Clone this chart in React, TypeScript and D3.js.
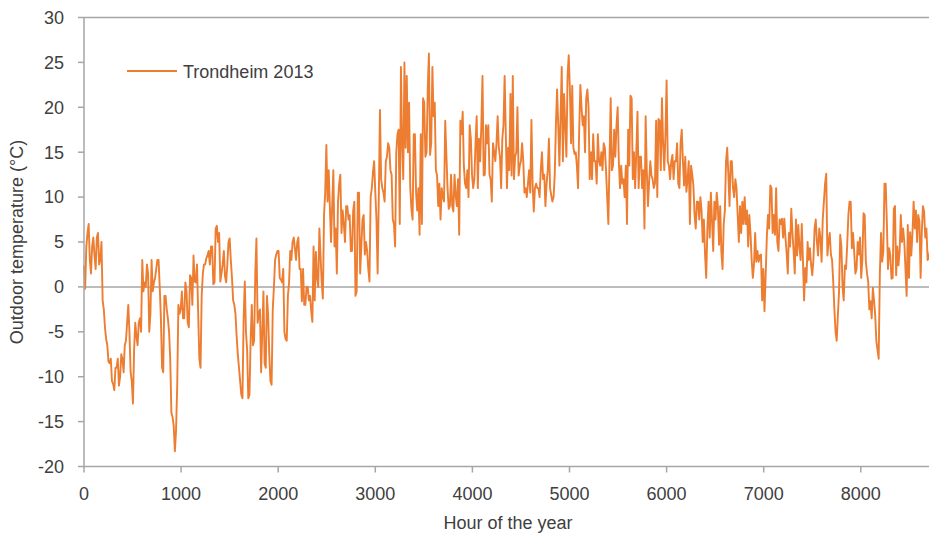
import React from 'react';
import { scaleLinear, line } from 'd3';

const STEP_HOURS = 24;
const HALF_DAY = 12;

const winter00 = [2.4, 4.5, 7.0, 1.5, 5.5, 2.0, 6.0, 3.0, -1.5, -4.5, -6.5, -8.5, -10.5, -11.5, -9.0, -11.0, -7.5, -9.5, -6.0, -2.0, -9.5, -13.0, -4.0, -6.5, -3.5, 3.0, 0.5, 2.5, -5.0, 3.0, 0.5, 2.0, 3.0, -3.5, -9.5, -1.0, -3.5, -8.0, -14.5, -18.3, -11.0, -3.0, -0.5, -3.5];
const winter12 = [-0.2, 6.0, 3.0, 4.5, 3.5, 5.5, 2.5, 5.0, -2.5, -5.8, -8.3, -8.0, -10.8, -9.0, -8.0, -10.0, -8.0, -6.5, -4.0, -5.0, -10.5, -7.0, -5.5, -4.0, -5.0, -0.5, 0.0, 1.5, -3.0, -0.5, 1.0, 3.0, 0.0, -9.0, -1.0, -2.5, -5.0, -14.0, -15.5, -16.0, -2.0, -2.5, -3.5, 0.5];

const lateWinter00 = [-0.5, -4.5, 1.0, 3.5, 0.5, -3.0, -9.0, 1.5, 2.5, 3.5, 2.5, 4.5, 0.5, 6.8, 6.0, 1.5, 4.0, 0.5, 5.0, 3.0, -1.5, -3.0, -7.5, -10.5, -12.4, 0.6, -7.0, -12.0, -2.0, -6.0, 5.4, -3.0, -9.5, -0.5, -9.0, -3.0, -10.5, -2.5, 3.0, 4.0, 1.0, 0.5, -5.0, -6.0, 0.5, 3.0, 5.5];
const lateWinter12 = [-4.0, 1.3, -2.0, 0.6, 2.5, -8.0, -1.0, 2.5, 3.2, 4.0, 4.5, 0.3, 6.5, 5.0, 0.6, 2.5, 1.2, 2.5, 5.4, 1.0, -2.0, -5.5, -9.0, -12.0, -3.5, -5.0, -12.4, -6.0, -6.5, 1.5, -4.0, -2.5, -5.0, -8.5, -1.0, -7.5, -10.9, 0.0, 3.6, 4.0, 0.8, 2.0, -5.8, -1.0, 4.0, 5.0, 4.3];

const spring00 = [3.0, 5.5, 2.0, 2.0, -2.0, 0.0, -1.0, -3.9, -1.5, 1.0, 6.5, 0.5, 8.0, 15.8, 13.0, 5.0, 13.0, 6.5, 9.5, 12.5, 8.5, 5.0, 9.0, 8.0, 4.0, 9.5, -0.5, 10.5, 4.5, 8.0, 5.0, 2.0, 10.0, 12.8, 10.5, 1.5, 19.7, 11.0, 9.5, 14.5, 15.5, 12.5, 7.0, 15.0];
const spring12 = [5.0, 2.0, -1.6, -2.0, 0.0, -1.5, -2.7, 4.5, 3.9, 0.0, 3.5, -1.3, 10.5, 9.5, 9.0, 9.0, 4.5, 1.5, 11.5, 6.0, 7.0, 9.0, 7.5, 4.0, 8.5, -1.0, 10.5, 1.5, 7.5, 3.6, 4.0, 0.6, 11.0, 14.0, 7.5, 10.0, 12.0, 10.5, 14.0, 16.0, 13.0, 7.5, 4.5, 17.0];

const earlySummer00 = [17.5, 24.5, 12.0, 15.5, 15.0, 11.0, 7.5, 17.0, 8.5, 5.8, 7.0, 20.5, 15.0, 26.0, 16.0, 19.0, 13.0, 9.0, 7.5, 10.0, 18.5, 11.0, 9.0, 9.0, 12.5, 9.0, 5.8, 17.0, 13.5, 11.0, 10.0, 16.5, 11.0, 16.0, 11.0, 14.0, 23.5, 12.5, 16.0, 12.5, 9.5, 15.0, 16.0, 15.5, 11.0, 18.0];
const earlySummer12 = [7.0, 16.0, 25.0, 23.5, 20.5, 8.7, 17.0, 10.5, 11.0, 17.0, 21.0, 14.5, 22.0, 14.7, 24.5, 20.5, 12.4, 11.5, 11.0, 9.5, 14.7, 8.7, 12.5, 8.4, 10.2, 12.0, 18.5, 19.5, 11.5, 13.0, 18.0, 12.5, 12.0, 19.0, 16.5, 18.0, 12.4, 18.0, 18.0, 12.0, 16.0, 14.0, 19.0, 14.5, 16.5, 23.5];

const summer00 = [17.0, 15.5, 21.5, 23.5, 14.5, 20.0, 13.5, 16.0, 10.5, 10.0, 13.0, 18.6, 8.4, 11.5, 11.0, 13.0, 12.0, 9.0, 13.0, 11.0, 9.5, 12.5, 22.0, 13.5, 24.5, 21.5, 14.5, 25.8, 16.0, 15.5, 15.0, 11.0, 22.5, 18.0, 15.0, 22.0, 12.0, 12.0, 14.0, 11.5, 14.0, 15.0, 16.0, 13.0, 7.0];
const summer12 = [11.0, 13.0, 12.4, 12.0, 15.0, 12.4, 14.0, 14.0, 11.0, 11.5, 10.5, 11.5, 11.0, 11.0, 10.0, 15.0, 12.5, 11.5, 16.5, 10.2, 10.0, 18.0, 18.0, 19.0, 14.0, 18.0, 23.5, 22.0, 22.4, 14.8, 13.5, 17.5, 20.0, 19.0, 21.0, 20.0, 15.0, 17.0, 14.0, 17.0, 13.5, 13.0, 15.5, 10.0, 13.9];

const lateSummer00 = [21.0, 13.5, 14.5, 20.0, 11.0, 11.5, 10.0, 7.0, 13.5, 21.0, 15.0, 15.0, 11.0, 14.5, 13.0, 19.0, 9.0, 14.0, 12.0, 11.5, 10.0, 18.5, 21.0, 13.0, 23.0, 13.5, 14.0, 12.0, 14.0, 11.5, 16.0, 14.0, 14.5, 12.0, 7.0, 12.5, 8.0, 9.5, 7.5, 8.5, 7.5, 1.0, 9.5, 10.5, 4.0];
const lateSummer12 = [13.0, 17.5, 18.0, 14.0, 13.5, 12.0, 13.5, 17.5, 21.3, 12.0, 11.0, 19.5, 14.5, 11.0, 6.5, 13.0, 11.7, 12.4, 11.0, 18.5, 18.7, 13.0, 16.0, 17.0, 14.0, 12.0, 14.7, 14.0, 16.0, 11.0, 17.5, 11.3, 10.6, 14.0, 13.5, 11.3, 6.5, 9.5, 10.0, 5.0, 3.6, 6.5, 5.5, 7.3, 9.5];

const autumn00 = [7.5, 9.0, 9.0, 2.0, 8.5, 15.5, 9.0, 14.0, 10.0, 11.0, 5.0, 6.0, 7.0, 7.0, 4.5, 6.0, 1.0, 6.0, 4.0, 3.5, -1.5, -2.7, 5.5, 6.5, 11.0, 8.0, 11.0, 4.0, 7.0, 5.5, 5.5, 1.5, 4.5, 6.0, 1.5, 3.5, 4.5, 7.0, -1.5, 0.5, 3.0, 2.5, 3.0, 7.5, 3.5];
const autumn12 = [10.5, 4.7, 3.9, 7.0, 14.0, 12.5, 14.0, 11.0, 12.0, 8.0, 9.0, 9.5, 10.0, 8.5, 8.0, 3.0, 2.5, 2.8, 2.8, 3.6, 2.0, 1.2, 8.0, 11.3, 6.0, 5.8, 5.0, 7.5, 7.6, 7.6, 3.8, 6.0, 8.7, 4.0, 7.5, 6.9, 3.0, 3.0, 2.1, 5.0, 4.3, 1.3, 6.5, 5.0, 6.5];

const earlyWinter00 = [5.5, 7.5, 11.5, 3.5, 6.0, 3.0, -2.5, -6.0, -0.5, 4.5, -1.5, 2.0, 8.0, 9.5, 6.0, 1.5, 5.0, 5.5, 3.0, 8.0, 1.5, -2.5, -3.5, -1.5, -6.0, -8.0, 6.0, 4.0, 11.5, 2.0, 3.5, 1.0, 9.0, 4.5, 4.0, 5.0, 5.0, -1.0, 1.0, 3.5, 9.5, 8.5, 8.0, 1.0, 9.0, 5.5, 3.0, 4.0, 3.0];
const earlyWinter12 = [2.8, 9.5, 12.6, 5.0, 3.6, 0.6, -5.0, -3.1, 5.8, 0.0, 2.4, 4.7, 9.5, 4.3, 3.9, 2.0, 3.6, 1.0, 8.2, 2.8, 0.6, -1.6, -0.1, -3.1, -7.0, 1.3, 2.8, 11.5, 7.3, 4.3, 0.9, 8.7, 1.3, 2.4, 8.0, 6.5, 2.0, 6.9, 6.1, 6.0, 6.5, 5.0, 7.3, 6.1, 8.4, 6.5, 3.2, 5.0, 2.5];

const xTicks = [0, 1000, 2000, 3000, 4000, 5000, 6000, 7000, 8000];
const yTicks = [-20, -15, -10, -5, 0, 5, 10, 15, 20, 25, 30];
const seriesName = 'Trondheim 2013';

const temps00 = [...winter00, ...lateWinter00, ...spring00, ...earlySummer00, ...summer00, ...lateSummer00, ...autumn00, ...earlyWinter00];
const temps12 = [...winter12, ...lateWinter12, ...spring12, ...earlySummer12, ...summer12, ...lateSummer12, ...autumn12, ...earlyWinter12];

type Pt = { hour: number; temp: number };
const series: Pt[] = temps00.flatMap((t, i) => [
  { hour: i * STEP_HOURS, temp: t },
  { hour: i * STEP_HOURS + HALF_DAY, temp: temps12[i] },
]);

const W = 929;
const H = 536;
const font = '"Liberation Sans", Arial, sans-serif';
const textColor = '#404040';
const axisColor = '#a6a6a6';
const orange = '#ed7d31';

const App: React.FC = () => {
  const x = scaleLinear().domain([0, 8760]).range([84, 934.6]);
  const y = scaleLinear().domain([-20, 30]).range([466.5, 17.5]);

  const path = line<Pt>()
    .x(d => x(d.hour))
    .y(d => y(d.temp))(series) || '';

  const left = x(0);
  const bottom = y(-20);

  return (
    <svg width={W} height={H} style={{ position: 'absolute', left: 0, top: 0, background: '#fff' }} fontFamily={font}>
      {/* frame + zero line */}
      <line x1={left} x2={W} y1={y(30)} y2={y(30)} stroke={axisColor} strokeWidth={1.5} />
      <line x1={left} x2={W} y1={y(0)} y2={y(0)} stroke={axisColor} strokeWidth={1.5} />

      <path d={path} fill="none" stroke={orange} strokeWidth={1.9} strokeLinejoin="round" />

      {/* y axis */}
      <line x1={left} x2={left} y1={y(30)} y2={bottom} stroke={axisColor} strokeWidth={1.5} />
      {yTicks.map(t => (
        <g key={t}>
          <line x1={left - 6} x2={left} y1={y(t)} y2={y(t)} stroke={axisColor} strokeWidth={1.5} />
          <text x={64} y={y(t)} dy="0.35em" textAnchor="end" fontSize={18} fill={textColor}>{t}</text>
        </g>
      ))}

      {/* x axis */}
      <line x1={left} x2={W} y1={bottom} y2={bottom} stroke={axisColor} strokeWidth={1.5} />
      {xTicks.map(t => (
        <g key={t}>
          <line x1={x(t)} x2={x(t)} y1={bottom} y2={bottom + 6} stroke={axisColor} strokeWidth={1.5} />
          <text x={x(t)} y={500} textAnchor="middle" fontSize={18} fill={textColor}>{t}</text>
        </g>
      ))}

      <text x={508} y={529} textAnchor="middle" fontSize={18} fill={textColor}>Hour of the year</text>
      <text transform="translate(23, 242) rotate(-90)" textAnchor="middle" fontSize={18} fill={textColor}>Outdoor temperature (°C)</text>

      {/* legend */}
      <line x1={127} x2={177} y1={71} y2={71} stroke={orange} strokeWidth={2} />
      <text x={183} y={78} fontSize={18} fill={textColor}>{seriesName}</text>
    </svg>
  );
};

export default App;
